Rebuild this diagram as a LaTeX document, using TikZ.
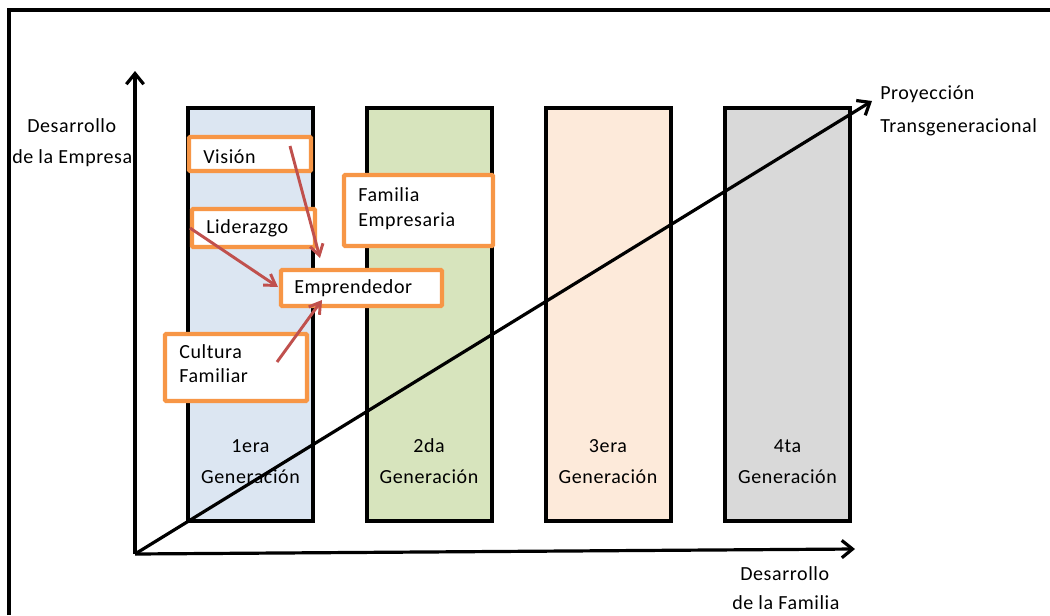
\documentclass[tikz,border=0pt]{standalone}
\usepackage{fontspec}
\setmainfont{Carlito}[LetterSpace=3]
\usetikzlibrary{arrows.meta,calc}
\definecolor{genblue}{HTML}{DCE6F2}
\definecolor{gengreen}{HTML}{D7E4BD}
\definecolor{genpeach}{HTML}{FDEADA}
\definecolor{gengray}{HTML}{D9D9D9}
\definecolor{boxorange}{HTML}{F79646}
\definecolor{arrowred}{HTML}{C0504D}
\begin{document}
\begin{tikzpicture}[x=0.75pt,y=-0.75pt,
  txt/.style={anchor=base west, inner sep=0pt, font=\fontsize{15}{18}\selectfont},
  ctxt/.style={anchor=base, inner sep=0pt, font=\fontsize{15}{18}\selectfont},
  genbar/.style={draw=black, line width=3pt, inner sep=0pt,
    minimum width=93.75pt, minimum height=309.75pt},
  factor/.style={draw=boxorange, fill=white, line width=3.3pt, rounded corners=1pt, inner sep=0pt},
  axis/.style={line width=2.4pt, -{Straight Barb[length=8pt,width=13pt,line width=2.4pt]}},
  influence/.style={draw=arrowred, line width=2.2pt,
    -{Straight Barb[length=8pt,width=10pt,line width=2.2pt]}}]
\useasboundingbox (0,0) rectangle (1050,615);

% outer frame
\draw[line width=3pt] (9,615) -- (9,10) -- (1050,10);

% generation bars
\node[genbar, fill=genblue]  (g1) at (250.5,314.5) {};
\node[genbar, fill=gengreen] (g2) at (429,314.5) {};
\node[genbar, fill=genpeach] (g3) at (608,314.5) {};
\node[genbar, fill=gengray]  (g4) at (787.5,314.5) {};

\foreach \n/\x in {1era/250.5, 2da/429, 3era/608, 4ta/787.5}{
  \node[ctxt] at (\x,452) {\n};
  \node[ctxt] at (\x,483) {Generación};
}

% axes and projection line
\coordinate (O) at (135,554);
\coordinate (ytip) at (135,71);
\coordinate (xtip) at (855,549);
\coordinate (dtip) at (872,101);
\draw[axis] (O) -- (ytip);
\draw[axis] (O) -- (xtip);
\draw[axis] (O) -- (dtip);

% axis labels
\node[txt] (ye1) at (27,132) {Desarrollo};
\node[txt] (ye2) at (12,163) {de la Empresa};
\node[txt] (xf1) at (740,580) {Desarrollo};
\node[txt] (xf2) at (732,609) {de la Familia};
\node[txt] (pt1) at (880,99) {Proyección};
\node[txt] (pt2) at (880,132) {Transgeneracional};

% factor boxes
\node[factor, minimum width=91.5pt, minimum height=25.5pt] (vision) at (250,154) {};
\node[factor, minimum width=92.25pt, minimum height=28.5pt] (lider) at (253.5,228) {};
\node[factor, minimum width=111.75pt, minimum height=53.25pt] (famemp) at (418.5,210.5) {};
\node[factor, minimum width=106.5pt, minimum height=50.25pt] (cultura) at (236,367.5) {};
\node[factor, minimum width=120.75pt, minimum height=27pt] (empr) at (361.5,288) {};

\node[txt] at (203,163) {Visión};
\node[txt] at (206,233) {Liderazgo};
\node[txt] at (358,201) {Familia};
\node[txt] at (358,226) {Empresaria};
\node[txt] at (179,358) {Cultura};
\node[txt] at (179,382) {Familiar};
\node[txt] at (294,293) {Emprendedor};

% influences on the entrepreneur
\coordinate (v1) at (290,146);
\coordinate (v2) at (320,258);
\coordinate (l1) at (190,228);
\coordinate (l2) at (278,287);
\coordinate (c1) at (277,362);
\coordinate (c2) at (322,300);
\draw[influence] (v1) -- (v2);
\draw[influence] (l1) -- (l2);
\draw[influence] (c1) -- (c2);
\end{tikzpicture}
\end{document}
